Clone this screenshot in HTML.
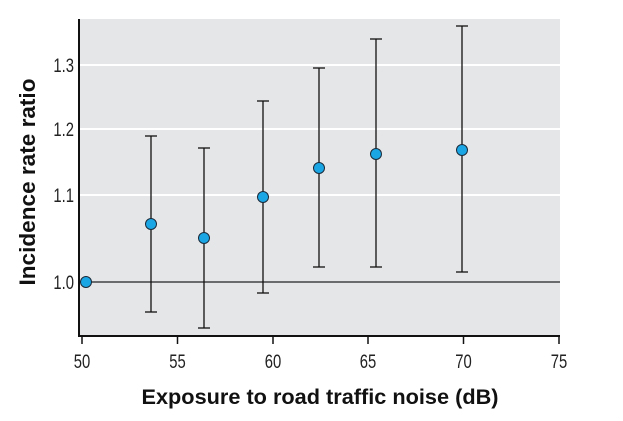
<!DOCTYPE html>
<html><head><style>body{margin:0;background:#fff}svg{display:block}</style></head>
<body>
<svg width="623" height="421" viewBox="0 0 623 421" xmlns="http://www.w3.org/2000/svg" font-family="Liberation Sans, sans-serif">
<rect x="79" y="19" width="481" height="317" fill="#e5e6e8"/>
<g stroke="#fff" stroke-width="2">
<line x1="79" x2="560" y1="65" y2="65"/>
<line x1="79" x2="560" y1="129" y2="129"/>
<line x1="79" x2="560" y1="195" y2="195"/>
</g>
<line x1="79" x2="560" y1="282" y2="282" stroke="#222" stroke-width="1.2"/>
<g stroke="#111" stroke-width="1.3">
<line x1="151" x2="151" y1="136" y2="312"/><line x1="145" x2="157" y1="136" y2="136"/><line x1="145" x2="157" y1="312" y2="312"/>
<line x1="204" x2="204" y1="148" y2="328"/><line x1="198" x2="210" y1="148" y2="148"/><line x1="198" x2="210" y1="328" y2="328"/>
<line x1="263" x2="263" y1="101" y2="293"/><line x1="257" x2="269" y1="101" y2="101"/><line x1="257" x2="269" y1="293" y2="293"/>
<line x1="319" x2="319" y1="68" y2="267"/><line x1="313" x2="325" y1="68" y2="68"/><line x1="313" x2="325" y1="267" y2="267"/>
<line x1="376" x2="376" y1="39" y2="267"/><line x1="370" x2="382" y1="39" y2="39"/><line x1="370" x2="382" y1="267" y2="267"/>
<line x1="462" x2="462" y1="26" y2="272"/><line x1="456" x2="468" y1="26" y2="26"/><line x1="456" x2="468" y1="272" y2="272"/>
</g>
<g fill="#1aa6e4" stroke="#1a2a3a" stroke-width="1">
<circle cx="86" cy="282" r="5.5"/><circle cx="151" cy="224" r="5.5"/><circle cx="204" cy="238" r="5.5"/>
<circle cx="263" cy="197" r="5.5"/><circle cx="319" cy="168" r="5.5"/><circle cx="376" cy="154" r="5.5"/><circle cx="462" cy="150" r="5.5"/>
</g>
<g stroke="#111" stroke-width="2">
<line x1="79" x2="79" y1="19" y2="337"/>
<line x1="78" x2="560" y1="336" y2="336"/>
</g>
<g stroke="#111" stroke-width="1.5">
<line x1="82" x2="82" y1="336" y2="344"/><line x1="177.5" x2="177.5" y1="336" y2="344"/><line x1="273" x2="273" y1="336" y2="344"/>
<line x1="368" x2="368" y1="336" y2="344"/><line x1="463.5" x2="463.5" y1="336" y2="344"/><line x1="559" x2="559" y1="336" y2="344"/>
</g>
<g font-size="19" fill="#222" text-anchor="middle">
<text x="82" y="368" transform="translate(82 0) scale(0.78 1) translate(-82 0)">50</text>
<text x="177.5" y="368" transform="translate(177.5 0) scale(0.78 1) translate(-177.5 0)">55</text>
<text x="273" y="368" transform="translate(273 0) scale(0.78 1) translate(-273 0)">60</text>
<text x="368" y="368" transform="translate(368 0) scale(0.78 1) translate(-368 0)">65</text>
<text x="463.5" y="368" transform="translate(463.5 0) scale(0.78 1) translate(-463.5 0)">70</text>
<text x="559" y="368" transform="translate(559 0) scale(0.78 1) translate(-559 0)">75</text>
</g>
<g font-size="19" fill="#222" text-anchor="end">
<text x="74" y="72" transform="translate(74 0) scale(0.78 1) translate(-74 0)">1.3</text>
<text x="74" y="136" transform="translate(74 0) scale(0.78 1) translate(-74 0)">1.2</text>
<text x="74" y="202" transform="translate(74 0) scale(0.78 1) translate(-74 0)">1.1</text>
<text x="74" y="289" transform="translate(74 0) scale(0.78 1) translate(-74 0)">1.0</text>
</g>
<text x="320" y="404" font-size="21" font-weight="bold" fill="#111" text-anchor="middle" textLength="357" lengthAdjust="spacingAndGlyphs">Exposure to road traffic noise (dB)</text>
<text transform="translate(35 182) rotate(-90)" font-size="22" font-weight="bold" fill="#111" text-anchor="middle" textLength="207" lengthAdjust="spacingAndGlyphs">Incidence rate ratio</text>
</svg>
</body></html>
